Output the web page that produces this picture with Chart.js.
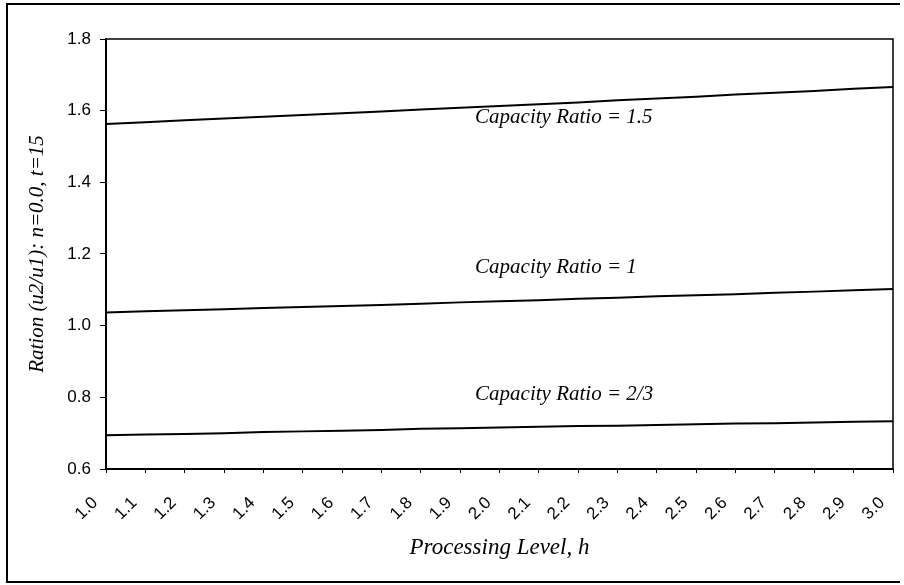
<!DOCTYPE html>
<html>
<head>
<meta charset="utf-8">
<script src="https://cdn.jsdelivr.net/npm/chart.js@4.4.1/dist/chart.umd.min.js"></script>
<style>
  html, body { margin: 0; padding: 0; background: #fff; }
  #wrap { position: relative; width: 904px; height: 585px; }
</style>
</head>
<body>
<div id="wrap"><canvas id="chart" width="904" height="585"></canvas></div>
<script>
// processing level h (x categories)
const levels = ['1.0', '1.1', '1.2', '1.3', '1.4', '1.5', '1.6', '1.7', '1.8', '1.9', '2.0',
                '2.1', '2.2', '2.3', '2.4', '2.5', '2.6', '2.7', '2.8', '2.9', '3.0'];

// ratio u2/u1
const ratioCap15 = [1.563, 1.568, 1.573, 1.578, 1.583, 1.588, 1.593, 1.598, 1.603, 1.608, 1.613,
                    1.618, 1.623, 1.629, 1.634, 1.639, 1.645, 1.650, 1.655, 1.661, 1.666];
const ratioCap1 = [1.037, 1.040, 1.043, 1.046, 1.049, 1.052, 1.055, 1.058, 1.061, 1.065, 1.068,
                   1.071, 1.075, 1.078, 1.082, 1.085, 1.088, 1.092, 1.095, 1.099, 1.102];
const ratioCap23 = [0.694, 0.696, 0.698, 0.700, 0.703, 0.705, 0.707, 0.709, 0.712, 0.714, 0.716,
                    0.718, 0.720, 0.721, 0.723, 0.725, 0.727, 0.728, 0.730, 0.732, 0.733];

// curve labels: text, x (category index), y (value at baseline)
const noteTexts = ['Capacity Ratio = 1.5', 'Capacity Ratio = 1', 'Capacity Ratio = 2/3'];
const noteX = [9.38, 9.38, 9.38];
const noteY = [1.565, 1.146, 0.792];

const serif = "'Liberation Serif', 'Times New Roman', serif";
const sansTicks = {family: "'Liberation Sans', Arial, sans-serif", size: 17};

const frame = {
    id: 'frame',
    beforeDraw(chart) {
        const ctx = chart.ctx;
        ctx.save();
        ctx.fillStyle = '#fff';
        ctx.fillRect(0, 0, chart.width, chart.height);
        ctx.strokeStyle = '#000';
        ctx.lineWidth = 2;
        ctx.beginPath();
        ctx.moveTo(900, 4);
        ctx.lineTo(7, 4);
        ctx.lineTo(7, 582);
        ctx.lineTo(900, 582);
        ctx.stroke();
        ctx.restore();
    },
    afterDatasetsDraw(chart) {
        const ctx = chart.ctx;
        const a = chart.chartArea;
        const xs = chart.scales.x, ys = chart.scales.y;
        ctx.save();
        ctx.strokeStyle = '#000';
        ctx.lineWidth = 1.5;
        ctx.strokeRect(a.left, a.top, a.right - a.left, a.bottom - a.top);
        ctx.font = "italic 21px " + serif;
        ctx.fillStyle = '#000';
        ctx.textAlign = 'left';
        ctx.textBaseline = 'alphabetic';
        noteTexts.forEach((t, i) => {
            ctx.fillText(t, xs.getPixelForValue(noteX[i]), ys.getPixelForValue(noteY[i]));
        });
        ctx.restore();
    }
};

const lineStyle = {
    borderColor: '#000',
    borderWidth: 2,
    pointRadius: 0,
    tension: 0,
    fill: false
};

new Chart(document.getElementById('chart').getContext('2d'), {
    type: 'line',
    data: {
        labels: levels,
        datasets: [
            Object.assign({label: 'Capacity Ratio = 1.5', data: ratioCap15}, lineStyle),
            Object.assign({label: 'Capacity Ratio = 1', data: ratioCap1}, lineStyle),
            Object.assign({label: 'Capacity Ratio = 2/3', data: ratioCap23}, lineStyle)
        ]
    },
    options: {
        responsive: false,
        animation: false,
        layout: {padding: {left: 20, right: 11, top: 39, bottom: 20}},
        plugins: {
            legend: {display: false},
            tooltip: {enabled: false}
        },
        scales: {
            x: {
                type: 'category',
                offset: false,
                afterFit(scale) {
                    scale.height = 96;
                    scale.paddingLeft = 0;
                    scale.paddingRight = 0;
                },
                grid: {drawOnChartArea: false, drawTicks: true, tickLength: 4, color: '#000'},
                border: {display: true, color: '#000', width: 2},
                ticks: {
                    color: '#000',
                    font: sansTicks,
                    minRotation: 45,
                    maxRotation: 45,
                    autoSkip: false,
                    padding: 20,
                    labelOffset: -11
                },
                title: {
                    display: true,
                    text: 'Processing Level, h',
                    color: '#000',
                    font: {family: serif, style: 'italic', size: 23},
                    padding: {top: 0, bottom: 3}
                }
            },
            y: {
                min: 0.6,
                max: 1.8,
                afterFit(scale) { scale.width = 86; },
                grid: {drawOnChartArea: false, drawTicks: true, tickLength: 6, color: '#000'},
                border: {display: true, color: '#000', width: 2},
                ticks: {
                    stepSize: 0.2,
                    color: '#000',
                    font: sansTicks,
                    padding: 9,
                    callback: v => Number(v).toFixed(1)
                },
                title: {
                    display: true,
                    text: 'Ration (u2/u1): n=0.0, t=15',
                    color: '#000',
                    font: {family: serif, style: 'italic', size: 21},
                    padding: {top: 5, bottom: 0}
                }
            }
        }
    },
    plugins: [frame]
});
</script>
</body>
</html>
